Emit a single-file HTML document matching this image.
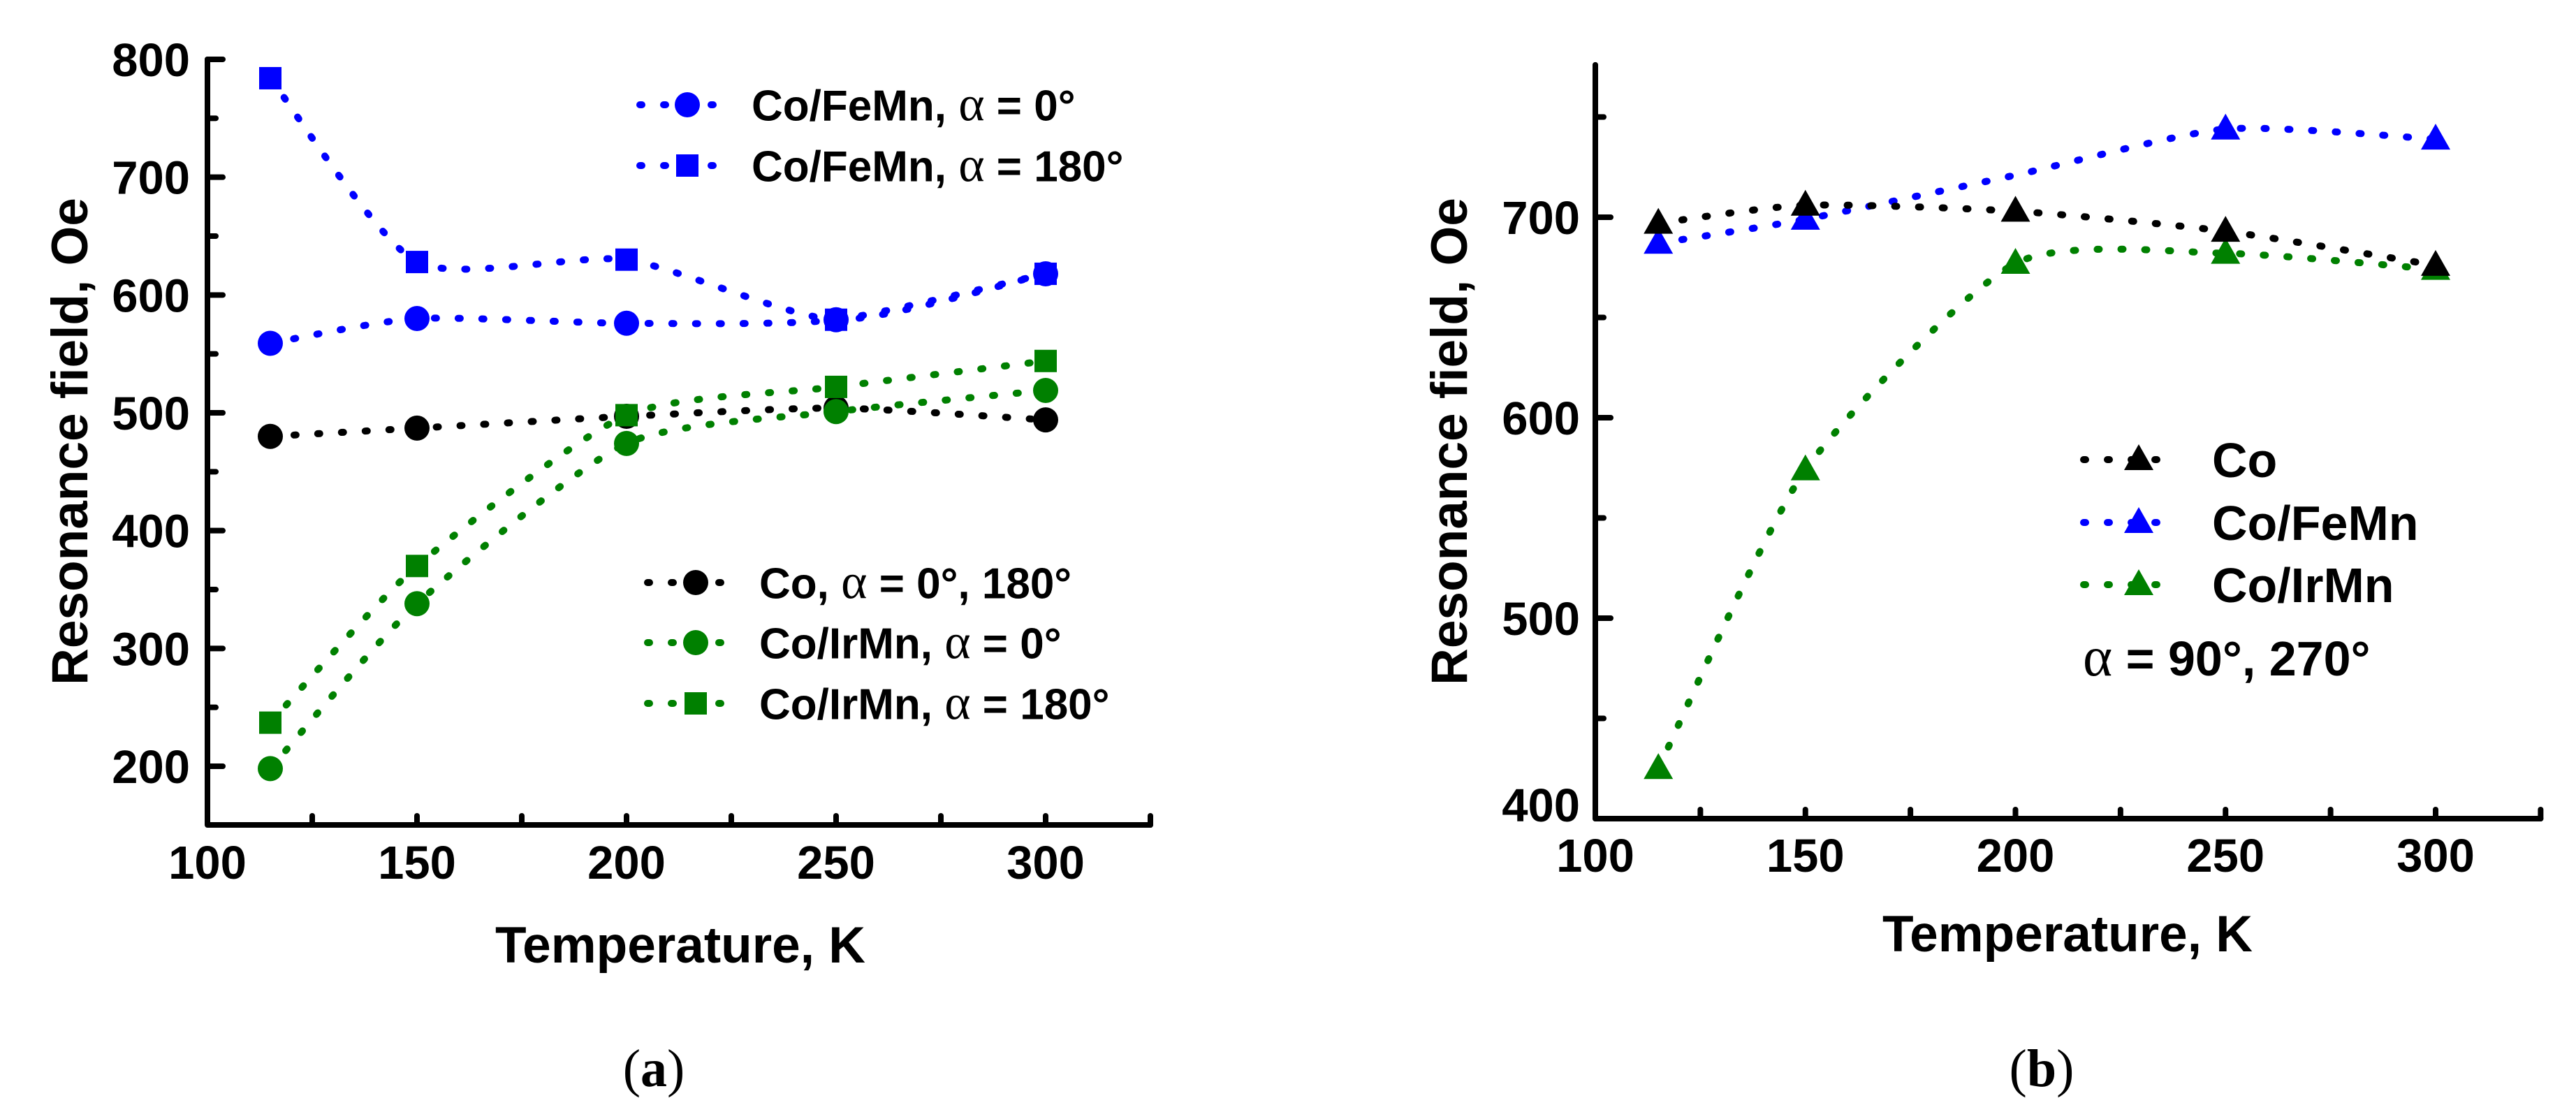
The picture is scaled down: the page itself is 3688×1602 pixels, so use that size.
<!DOCTYPE html>
<html><head><meta charset="utf-8">
<style>
html,body{margin:0;padding:0;background:#fff;}
svg{display:block;}
text{font-family:"Liberation Sans",Arial,sans-serif;}
</style></head>
<body>
<svg id="fig" width="3688" height="1602" viewBox="0 0 3688 1602" xmlns="http://www.w3.org/2000/svg">
<rect width="3688" height="1602" fill="#fff"/>
<g id="pa"></g>
<g id="pb"></g>
</svg>
<script>
// ---------- data ----------
const temps = [115, 150, 200, 250, 300];
const aCoFeMn0 = [559, 580, 576, 579, 618];
const aCoFeMn180 = [784, 628, 630, 579, 618];
const aCo = [480, 487, 497, 504, 494];
const aCoIrMn0 = [198, 338, 474, 501, 519];
const aCoIrMn180 = [237, 370, 498, 522, 544];
const bCo = [697, 706, 703, 693, 676];
const bCoFeMn = [687, 699, 721, 744, 739];
const bCoFeMnShown = [true, true, false, true, true];
const bCoIrMn = [425, 574, 677, 682, 674];
const xTicks = [100, 150, 200, 250, 300];
const aYTicks = [200, 300, 400, 500, 600, 700, 800];
const bYTicks = [400, 500, 600, 700];

const NS = "http://www.w3.org/2000/svg";
function mk(tag, attrs, parent) {
  const e = document.createElementNS(NS, tag);
  for (const k in attrs) e.setAttribute(k, attrs[k]);
  parent.appendChild(e);
  return e;
}
const BLUE = "#0000ff", GREEN = "#008000", BLACK = "#000";

const axA = { x0: 297, kx: 6.0, y0: 1097, vy0: 200, ky: 1.6867, xmax: 325, ymin: 150.2, ymax: 800 };
const axB = { x0: 2284, kx: 6.015, y0: 1172, vy0: 400, ky: 2.87, xmax: 325, ymin: 400, ymax: 776 };
function X(ax, v) { return ax.x0 + (v - 100) * ax.kx; }
function Y(ax, v) { return ax.y0 - (v - ax.vy0) * ax.ky; }

function smoothPath(pts) {
  let d = "M" + pts[0][0] + "," + pts[0][1];
  for (let i = 0; i < pts.length - 1; i++) {
    const p0 = pts[i - 1] || pts[i], p1 = pts[i], p2 = pts[i + 1], p3 = pts[i + 2] || p2;
    const t = 0.11;
    const c1 = [p1[0] + (p2[0] - p0[0]) * t, p1[1] + (p2[1] - p0[1]) * t];
    const c2 = [p2[0] - (p3[0] - p1[0]) * t, p2[1] - (p3[1] - p1[1]) * t];
    d += " C" + c1[0] + "," + c1[1] + " " + c2[0] + "," + c2[1] + " " + p2[0] + "," + p2[1];
  }
  return d;
}
function marker(g, shape, cx, cy, color) {
  let m;
  if (shape === "circle") m = mk("circle", { cx: cx, cy: cy, r: 18, fill: color }, g);
  else if (shape === "square") m = mk("rect", { x: cx - 16, y: cy - 16, width: 32, height: 32, fill: color }, g);
  else m = mk("polygon", { points: (cx) + "," + (cy - 22) + " " + (cx - 21) + "," + (cy + 15) + " " + (cx + 21) + "," + (cy + 15), fill: color }, g);
  return m;
}
function series(g, ax, vals, color, shape, name, shown) {
  const sg = mk("g", {}, g);
  
  
  const pts = temps.map((t, i) => [X(ax, t), Y(ax, vals[i])]);
  const p = mk("path", { d: smoothPath(pts), fill: "none", stroke: color, "stroke-width": 10, "stroke-linecap": "round", "stroke-dasharray": "3 31" }, sg);
  
  
  pts.forEach((pt, i) => {
    if (shown && !shown[i]) return;
    const m = marker(sg, shape, pt[0], pt[1], color);
    
    
  });
}
function axes(g, ax, yTicks, yMinorStep, yLabelRight, xLabelY, yTitleX, xTitleX, xTitleY) {
  const xa = X(ax, 100), xb = X(ax, ax.xmax), yb = Y(ax, ax.ymin), yt = Y(ax, ax.ymax);
  const a = mk("path", { d: "M" + xa + "," + yt + " L" + xa + "," + yb + " L" + xb + "," + yb, fill: "none", stroke: BLACK, "stroke-width": 8, "stroke-linejoin": "round", "stroke-linecap": "round" }, g);
  
  
  for (let v = 125; v <= ax.xmax; v += 25) {
    const tk = mk("line", { x1: X(ax, v), x2: X(ax, v), y1: yb, y2: yb - 13, stroke: BLACK, "stroke-width": 8, "stroke-linecap": "round" }, g);
    
    
  }
  for (let v = Math.ceil(ax.ymin / yMinorStep) * yMinorStep; v <= ax.ymax; v += yMinorStep) {
    const major = yTicks.indexOf(v) >= 0;
    const tk = mk("line", { x1: xa, x2: xa + (major ? 22 : 12), y1: Y(ax, v), y2: Y(ax, v), stroke: BLACK, "stroke-width": 8, "stroke-linecap": "round" }, g);
    
    
  }
  xTicks.forEach(v => {
    const t = mk("text", { x: X(ax, v), y: xLabelY, "text-anchor": "middle", "font-size": 67, "font-weight": "bold" }, g);
    t.textContent = v;
    
    
  });
  yTicks.forEach(v => {
    const yy = v === ax.ymin ? Y(ax, v) + 4 : Y(ax, v) + 24;
    const t = mk("text", { x: yLabelRight, y: yy, "text-anchor": "end", "font-size": 67, "font-weight": "bold" }, g);
    t.textContent = v;
    
    
  });
  const yt2 = mk("text", { x: 0, y: 0, transform: "translate(" + yTitleX + ",632) rotate(-90)", "text-anchor": "middle", "font-size": 73, "font-weight": "bold" }, g);
  yt2.textContent = "Resonance field, Oe";
  
  
  const xt = mk("text", { x: xTitleX, y: xTitleY, "text-anchor": "middle", "font-size": 73, "font-weight": "bold" }, g);
  xt.textContent = "Temperature, K";
  
  
}
function legendEntry(g, x1, x2, mx, y, color, shape, label, tx, fs, name) {
  const lg = mk("g", {}, g);
  
  
  mk("line", { x1: x1, x2: x2, y1: y, y2: y, stroke: color, "stroke-width": 10, "stroke-linecap": "round", "stroke-dasharray": "3 31" }, lg);
  marker(lg, shape, mx, y, color);
  const t = mk("text", { x: tx, y: y + fs * 0.36, "font-size": fs, "font-weight": "bold" }, lg);
  t.innerHTML = label;
}
const ALPHA = '<tspan font-family="Liberation Serif, serif" font-weight="normal" font-size="1.15em">α</tspan>';

// ---------- Panel A ----------
const pa = document.getElementById("pa");
axes(pa, axA, aYTicks, 50, 272, 1258, 125, 974, 1378);
series(pa, axA, aCo, BLACK, "circle", "series-co");
series(pa, axA, aCoIrMn0, GREEN, "circle", "series-co-irmn-0");
series(pa, axA, aCoIrMn180, GREEN, "square", "series-co-irmn-180");
series(pa, axA, aCoFeMn0, BLUE, "circle", "series-co-femn-0");
series(pa, axA, aCoFeMn180, BLUE, "square", "series-co-femn-180");
legendEntry(pa, 916, 1052, 984, 150, BLUE, "circle", "Co/FeMn, " + ALPHA + " = 0°", 1076, 62, "legend-entry-co-femn-0");
legendEntry(pa, 916, 1052, 984, 237, BLUE, "square", "Co/FeMn, " + ALPHA + " = 180°", 1076, 62, "legend-entry-co-femn-180");
legendEntry(pa, 927, 1063, 996, 834, BLACK, "circle", "Co, " + ALPHA + " = 0°, 180°", 1087, 62, "legend-entry-co");
legendEntry(pa, 927, 1063, 996, 920, GREEN, "circle", "Co/IrMn, " + ALPHA + " = 0°", 1087, 62, "legend-entry-co-irmn-0");
legendEntry(pa, 927, 1063, 996, 1007, GREEN, "square", "Co/IrMn, " + ALPHA + " = 180°", 1087, 62, "legend-entry-co-irmn-180");
const capA = mk("text", { x: 936, y: 1555, "text-anchor": "middle", "font-size": 76, style: "font-family:'Liberation Serif',serif" }, pa);
capA.innerHTML = '(<tspan font-weight="bold">a</tspan>)';



// ---------- Panel B ----------
const pb = document.getElementById("pb");
axes(pb, axB, bYTicks, 50, 2262, 1248, 2100, 2960, 1362);
series(pb, axB, bCoIrMn, GREEN, "triangle", "series-b-co-irmn");
series(pb, axB, bCoFeMn, BLUE, "triangle", "series-b-co-femn", bCoFeMnShown);
series(pb, axB, bCo, BLACK, "triangle", "series-b-co");
legendEntry(pb, 2983, 3118, 3062, 658, BLACK, "triangle", "Co", 3167, 70, "legend-entry-b-co");
legendEntry(pb, 2983, 3118, 3062, 748, BLUE, "triangle", "Co/FeMn", 3167, 70, "legend-entry-b-co-femn");
legendEntry(pb, 2983, 3118, 3062, 837, GREEN, "triangle", "Co/IrMn", 3167, 70, "legend-entry-b-co-irmn");
const al = mk("text", { x: 2982, y: 967, "font-size": 70, "font-weight": "bold" }, pb);
al.innerHTML = ALPHA + " = 90°, 270°";


const capB = mk("text", { x: 2923, y: 1555, "text-anchor": "middle", "font-size": 76, style: "font-family:'Liberation Serif',serif" }, pb);
capB.innerHTML = '(<tspan font-weight="bold">b</tspan>)';


</script>
</body></html>
